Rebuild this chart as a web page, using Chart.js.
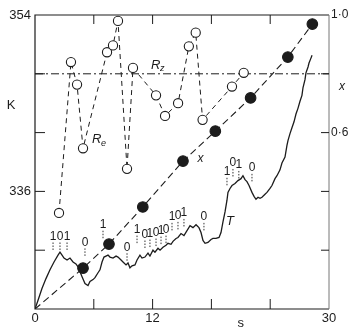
<!DOCTYPE html>
<html>
<head>
<meta charset="utf-8">
<script src="https://cdn.jsdelivr.net/npm/chart.js@4.4.1/dist/chart.umd.min.js"></script>
<style>
  html, body { margin: 0; padding: 0; background: #fff; }
  #wrap { width: 349px; height: 328px; }
</style>
</head>
<body>
<div id="wrap"><canvas id="chart" width="349" height="328"></canvas></div>
<script>
// T curve, left axis (K) against s
const tS = [0, 0.31, 0.71, 1.12, 1.53, 1.94, 2.35, 2.55, 2.76, 2.96, 3.27, 3.57, 3.88, 4.18, 4.39, 4.59, 4.80, 5.10, 5.41, 5.61,
  5.92, 6.12, 6.43, 6.63, 6.84, 7.04, 7.24, 7.45, 7.65, 7.96, 8.27, 8.47, 8.78, 8.98, 9.29, 9.49, 9.69, 9.90, 10.20, 10.41,
  10.71, 10.92, 11.22, 11.53, 11.73, 12.04, 12.24, 12.55, 12.76, 13.06, 13.37, 13.57, 13.88, 14.08, 14.39, 14.59, 14.90, 15.20, 15.51, 15.82,
  16.12, 16.43, 16.73, 16.94, 17.14, 17.35, 17.65, 17.96, 18.16, 18.47, 18.78, 18.98, 19.18, 19.39, 19.59, 19.69, 19.90, 20.10, 20.41,
  20.71, 21.02, 21.22, 21.43, 21.63, 21.84, 22.14, 22.35, 22.55, 22.76, 22.96, 23.16, 23.47, 23.67, 23.98, 24.18, 24.49, 24.69, 25.00, 25.20,
  25.51, 25.71, 25.82, 26.02, 26.22, 26.43, 26.63, 26.84, 27.04, 27.24, 27.35, 27.55, 27.65, 27.86, 27.96, 28.16, 28.27];
const tK = [324.0, 324.9, 326.1, 327.1, 328.0, 328.8, 329.5, 329.8, 329.5, 329.2, 329.0, 329.2, 328.8, 328.6, 328.3, 327.8, 327.3, 326.6, 326.4, 326.8,
  327.0, 327.2, 327.7, 328.0, 328.8, 329.3, 329.4, 329.5, 329.3, 329.2, 329.4, 329.3, 329.0, 328.8, 328.5, 328.7, 328.2, 328.4, 328.5, 329.0,
  329.5, 329.2, 329.3, 329.7, 329.4, 330.0, 329.8, 330.2, 330.0, 330.3, 330.5, 330.7, 330.6, 330.9, 331.2, 331.3, 331.7, 331.5, 332.0, 332.5,
  332.3, 332.6, 332.3, 331.8, 331.0, 330.7, 330.8, 331.1, 331.2, 331.2, 331.3, 331.8, 332.9, 333.9, 335.1, 335.9, 336.3, 336.6, 336.8,
  337.1, 337.3, 337.6, 337.2, 337.0, 336.6, 335.9, 335.5, 335.2, 335.4, 335.3, 335.4, 335.7, 335.9, 336.3, 336.6, 337.3, 337.6, 338.2, 338.9,
  339.5, 340.7, 341.2, 341.9, 342.5, 343.1, 343.9, 344.5, 345.2, 345.8, 346.6, 347.4, 348.1, 348.7, 349.1, 349.6, 349.9];

// open circles (R_z / R_e), left axis
const rS = [2.45, 3.67, 4.29, 4.90, 7.35, 7.96, 8.47, 9.39, 10.0, 12.35, 13.27, 14.6, 15.7, 16.4, 17.1, 20.1, 21.3];
const rK = [333.8, 349.2, 346.9, 340.4, 350.2, 350.9, 353.4, 338.3, 348.6, 345.8, 343.7, 345.0, 350.8, 352.2, 343.3, 346.7, 348.1];

// filled circles (x), right axis
const xS = [0, 4.9, 7.55, 11.0, 15.1, 18.4, 22.0, 25.8, 28.3];
const xV = [0, 0.139, 0.221, 0.347, 0.503, 0.605, 0.718, 0.857, 0.969];

// horizontal dash-dot reference level (K)
const refK = 348;

// tick labels shown
const bottomLabels = [0, 12, 30];
const leftLabels = [354, 336];
const rightLabels = ['1·0', '0·6'];
const rightLabelValues = [1.0, 0.6];

// small 0/1 marks above the T curve
const bitText = ['1', '0', '1', '0', '1', '0', '1', '0', '1', '0', '1', '0', '1', '0', '1', '0', '1', '0', '1', '0'];
const bitS = [1.84, 2.55, 3.27, 5.10, 6.94, 9.39, 10.41, 11.22, 11.73, 12.35, 12.86, 13.37, 13.98, 14.59, 15.2, 17.24, 19.59, 20.2, 20.8, 22.14];
const bitK = [331.4, 331.4, 331.4, 330.8, 332.6, 330.3, 332.1, 331.6, 331.7, 331.8, 332.0, 332.1, 333.4, 333.5, 333.8, 333.4, 338.0, 338.9, 338.7, 338.4];

const font = "'Liberation Sans', Arial, sans-serif";
const ink = '#1c1c1c';

const pts = (xs, ys) => xs.map((v, i) => ({ x: v, y: ys[i] }));

const framePlugin = {
  id: 'frame',
  beforeDatasetsDraw(chart) {
    const { ctx, chartArea: a, scales } = chart;
    ctx.save();
    ctx.lineWidth = 1.2;
    ctx.strokeStyle = ink;
    ctx.beginPath();
    ctx.moveTo(a.right, a.bottom);
    ctx.lineTo(a.left, a.bottom);
    ctx.lineTo(a.left, a.top);
    ctx.lineTo(a.right, a.top);
    ctx.stroke();
    ctx.strokeStyle = '#777';
    ctx.lineWidth = 1;
    ctx.beginPath();
    ctx.moveTo(a.right, a.top);
    ctx.lineTo(a.right, a.bottom);
    ctx.stroke();

    // inward ticks
    ctx.strokeStyle = ink;
    ctx.lineWidth = 1;
    ctx.beginPath();
    scales.x.ticks.forEach(t => {
      if (t.value <= 0 || t.value >= 30) return;
      const px = scales.x.getPixelForValue(t.value);
      ctx.moveTo(px, a.bottom); ctx.lineTo(px, a.bottom - 10);
      ctx.moveTo(px, a.top); ctx.lineTo(px, a.top + 9);
    });
    scales.y.ticks.forEach(t => {
      if (t.value <= 324 || t.value >= 354) return;
      const py = scales.y.getPixelForValue(t.value);
      ctx.moveTo(a.left, py); ctx.lineTo(a.left + 10, py);
    });
    scales.y2.ticks.forEach(t => {
      if (t.value <= 0 || t.value >= 1) return;
      const py = scales.y2.getPixelForValue(t.value);
      ctx.moveTo(a.right, py); ctx.lineTo(a.right - 8, py);
    });
    ctx.stroke();
    ctx.restore();
  },
  afterDraw(chart) {
    const { ctx, scales } = chart;
    const x = scales.x, y = scales.y, y2 = scales.y2;
    ctx.save();
    ctx.fillStyle = ink;
    ctx.textAlign = 'center';
    ctx.textBaseline = 'middle';

    // axis names
    ctx.font = `13px ${font}`;
    ctx.fillText('K', 11, y.getPixelForValue(344.8));
    ctx.fillText('s', x.getPixelForValue(21), 323);
    ctx.font = `italic 12px ${font}`;
    ctx.fillText('x', 342, y2.getPixelForValue(0.755));
    ctx.fillText('x', x.getPixelForValue(16.9), y2.getPixelForValue(0.51));
    ctx.font = `italic 13px ${font}`;
    ctx.fillText('T', x.getPixelForValue(19.9), y.getPixelForValue(332.9));

    // R labels
    const rLabel = (sub, s, k) => {
      const px = x.getPixelForValue(s), py = y.getPixelForValue(k);
      ctx.font = `italic 13px ${font}`;
      ctx.textAlign = 'left';
      ctx.fillText('R', px - 6, py);
      ctx.font = `italic 9px ${font}`;
      ctx.fillText(sub, px + 3, py + 4);
      ctx.textAlign = 'center';
    };
    rLabel('z', 12.45, 348.9);
    rLabel('e', 6.43, 341.3);

    // 0/1 marks with dotted leaders
    ctx.font = `12px ${font}`;
    ctx.strokeStyle = ink;
    ctx.lineWidth = 0.9;
    ctx.setLineDash([1.5, 1.5]);
    bitText.forEach((txt, i) => {
      const px = x.getPixelForValue(bitS[i]), py = y.getPixelForValue(bitK[i]);
      ctx.fillText(txt, px, py);
      ctx.beginPath();
      ctx.moveTo(px, py + 6);
      ctx.lineTo(px, py + 15);
      ctx.stroke();
    });
    ctx.restore();
  }
};

new Chart(document.getElementById('chart'), {
  type: 'scatter',
  data: {
    datasets: [
      {
        label: 'T',
        data: pts(tS, tK),
        yAxisID: 'y',
        showLine: true,
        borderColor: ink,
        borderWidth: 1.3,
        pointRadius: 0,
        tension: 0
      },
      {
        label: 'R',
        data: pts(rS, rK),
        yAxisID: 'y',
        showLine: true,
        borderColor: ink,
        borderWidth: 1,
        borderDash: [5, 4],
        pointRadius: 4.6,
        pointBackgroundColor: '#fff',
        pointBorderColor: ink,
        pointBorderWidth: 1.1
      },
      {
        label: 'x',
        data: pts(xS, xV),
        yAxisID: 'y2',
        showLine: true,
        borderColor: ink,
        borderWidth: 1.1,
        borderDash: [7, 4],
        pointRadius: ctx => (ctx.dataIndex === 0 ? 0 : 5.3),
        pointBackgroundColor: ink,
        pointBorderColor: ink
      },
      {
        label: 'ref',
        data: [{ x: 0, y: refK }, { x: 30, y: refK }],
        yAxisID: 'y',
        showLine: true,
        borderColor: ink,
        borderWidth: 1,
        borderDash: [8, 3, 2, 3],
        pointRadius: 0
      }
    ]
  },
  options: {
    responsive: false,
    animation: false,
    devicePixelRatio: 1,
    layout: { padding: { top: 15, left: 0, right: 0, bottom: 0 } },
    plugins: { legend: { display: false }, tooltip: { enabled: false } },
    scales: {
      x: {
        type: 'linear',
        position: 'bottom',
        min: 0,
        max: 30,
        grid: { display: false, drawTicks: false },
        border: { display: false },
        ticks: {
          stepSize: 6,
          padding: 2,
          autoSkip: false,
          maxRotation: 0,
          color: ink,
          font: { family: font, size: 13 },
          callback: v => (bottomLabels.includes(v) ? String(v) : '')
        },
        afterFit: s => { s.height = 19; }
      },
      y: {
        type: 'linear',
        position: 'left',
        min: 324,
        max: 354,
        grid: { display: false, drawTicks: false },
        border: { display: false },
        ticks: {
          stepSize: 6,
          padding: 4,
          autoSkip: false,
          color: ink,
          font: { family: font, size: 13 },
          callback: v => (leftLabels.includes(v) ? String(v) : '')
        },
        afterFit: s => { s.width = 35; }
      },
      y2: {
        type: 'linear',
        position: 'right',
        min: 0,
        max: 1,
        grid: { display: false, drawTicks: false },
        border: { display: false },
        ticks: {
          stepSize: 0.2,
          padding: 2,
          autoSkip: false,
          color: ink,
          font: { family: font, size: 12 },
          callback: v => {
            const i = rightLabelValues.findIndex(r => Math.abs(r - v) < 1e-6);
            return i >= 0 ? rightLabels[i] : '';
          }
        },
        afterFit: s => { s.width = 20; }
      }
    }
  },
  plugins: [framePlugin]
});
</script>
</body>
</html>
